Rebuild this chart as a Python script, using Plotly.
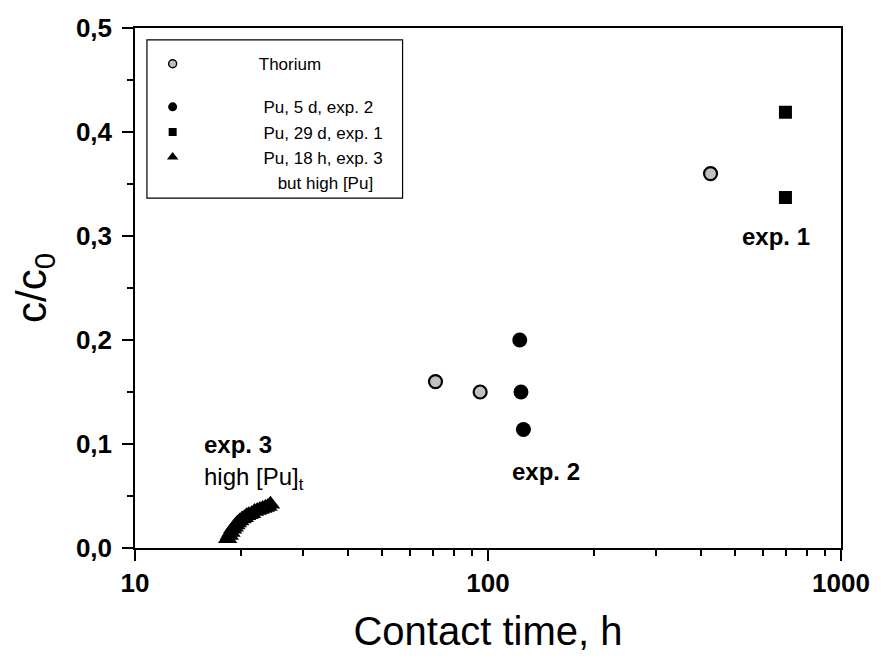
import plotly.graph_objects as go

# Thorium (grey circles)
th_x = [71, 95, 427]
th_y = [0.160, 0.150, 0.360]
# Pu, 5 d, exp. 2 (black circles)
pu5_x = [123, 124, 126]
pu5_y = [0.200, 0.150, 0.114]
# Pu, 29 d, exp. 1 (black squares)
pu29_x = [696, 696]
pu29_y = [0.419, 0.337]
# Pu, 18 h, exp. 3, high [Pu] (black triangles)
pu18_x = [18.3, 18.5, 18.7, 18.9, 19.1, 19.3, 19.5, 19.8, 20.1, 20.4,
          20.7, 21.0, 21.4, 21.8, 22.2, 22.6, 23.0, 23.4, 23.8, 24.2]
pu18_y = [0.009, 0.012, 0.015, 0.018, 0.020, 0.022, 0.024, 0.026, 0.028, 0.029,
          0.031, 0.032, 0.033, 0.035, 0.036, 0.037, 0.038, 0.039, 0.040, 0.042]

x_ticks = [10, 100, 1000]
y_ticks = [0.0, 0.1, 0.2, 0.3, 0.4, 0.5]

FONT = "Liberation Sans, Arial, sans-serif"
NB = "\u00a0"

fig = go.Figure()

fig.add_trace(go.Scatter(x=pu18_x, y=pu18_y, mode="markers", showlegend=False,
                         marker=dict(symbol="triangle-up", size=17, color="black",
                                     line=dict(width=0))))
fig.add_trace(go.Scatter(x=th_x, y=th_y, mode="markers", showlegend=False,
                         marker=dict(symbol="circle", size=13, color="#c0c0c0",
                                     line=dict(width=2.2, color="black"))))
fig.add_trace(go.Scatter(x=pu5_x, y=pu5_y, mode="markers", showlegend=False,
                         marker=dict(symbol="circle", size=15, color="black",
                                     line=dict(width=0))))
fig.add_trace(go.Scatter(x=pu29_x, y=pu29_y, mode="markers", showlegend=False,
                         marker=dict(symbol="square", size=13, color="black",
                                     line=dict(width=0))))

# legend-only entries
fig.add_trace(go.Scatter(x=[None], y=[None], mode="markers", legendgroup="a",
                         name=NB * 14 + "Thorium",
                         marker=dict(symbol="circle", size=8, color="#c0c0c0",
                                     line=dict(width=1.5, color="black"))))
fig.add_trace(go.Scatter(x=[None], y=[None], mode="markers", legendgroup="b",
                         name=NB * 15 + "Pu, 5 d, exp. 2",
                         marker=dict(symbol="circle", size=9, color="black")))
fig.add_trace(go.Scatter(x=[None], y=[None], mode="markers", legendgroup="b",
                         name=NB * 15 + "Pu, 29 d, exp. 1",
                         marker=dict(symbol="square", size=8, color="black")))
fig.add_trace(go.Scatter(x=[None], y=[None], mode="markers", legendgroup="b",
                         name=NB * 15 + "Pu, 18 h, exp. 3",
                         marker=dict(symbol="triangle-up", size=10, color="black")))
fig.add_trace(go.Scatter(x=[None], y=[None], mode="markers", legendgroup="b",
                         name=NB * 18 + "but high [Pu]",
                         marker=dict(symbol="circle", size=1, color="rgba(0,0,0,0)")))

fig.add_shape(type="rect", xref="paper", yref="paper",
              x0=0.0169, x1=0.379, y0=0.673, y1=0.977,
              line=dict(color="black", width=1.2), fillcolor="rgba(0,0,0,0)")

ann_font_b = dict(family=FONT, size=24, color="black", weight="bold")
ann_font = dict(family=FONT, size=24, color="black")
fig.add_annotation(x=1.19, y=0.100, xref="x", yref="y", text="exp. 3", showarrow=False,
                   xanchor="left", yanchor="middle", font=ann_font_b)
fig.add_annotation(x=1.19, y=0.067, xref="x", yref="y", text="high [Pu]<sub>t</sub>",
                   showarrow=False, xanchor="left", yanchor="middle", font=ann_font)
fig.add_annotation(x=2.062, y=0.074, xref="x", yref="y", text="exp. 2", showarrow=False,
                   xanchor="left", yanchor="middle", font=ann_font_b)
fig.add_annotation(x=2.715, y=0.300, xref="x", yref="y", text="exp. 1", showarrow=False,
                   xanchor="left", yanchor="middle", font=ann_font_b)

fig.update_layout(
    width=882, height=658,
    margin=dict(l=135, r=35, t=28, b=110),
    paper_bgcolor="white", plot_bgcolor="white",
    separators=",.",
    font=dict(family=FONT, color="black"),
    showlegend=True,
    legend=dict(x=0.025, y=0.965, xanchor="left", yanchor="top",
                bgcolor="rgba(0,0,0,0)", borderwidth=0,
                traceorder="grouped", tracegroupgap=18,
                font=dict(family=FONT, size=17, color="black"),
                itemsizing="trace"),
    xaxis=dict(type="log", range=[1, 3], tickvals=x_ticks,
               ticktext=[str(v) for v in x_ticks],
               ticks="outside", ticklen=11, tickwidth=1.5, tickcolor="black",
               showline=True, linecolor="black", linewidth=1.5, mirror=True,
               showgrid=False, zeroline=False,
               minor=dict(ticks="outside", ticklen=6, tickwidth=1.5, tickcolor="black",
                          dtick="D1", showgrid=False),
               tickfont=dict(family=FONT, size=26, color="black", weight="bold"),
               title=dict(text="Contact time, h", font=dict(family=FONT, size=40),
                          standoff=20)),
    yaxis=dict(range=[0, 0.5], tickvals=y_ticks, tickformat=".1f",
               ticks="outside", ticklen=11, tickwidth=1.5, tickcolor="black",
               ticklabelstandoff=5,
               showline=True, linecolor="black", linewidth=1.5, mirror=True,
               showgrid=False, zeroline=False,
               minor=dict(ticks="outside", ticklen=6, tickwidth=1.5, tickcolor="black",
                          dtick=0.05, showgrid=False),
               tickfont=dict(family=FONT, size=26, color="black", weight="bold"),
               title=dict(text="c/c<sub>0</sub>", font=dict(family=FONT, size=42),
                          standoff=16)),
)

fig.write_html("out.html")
